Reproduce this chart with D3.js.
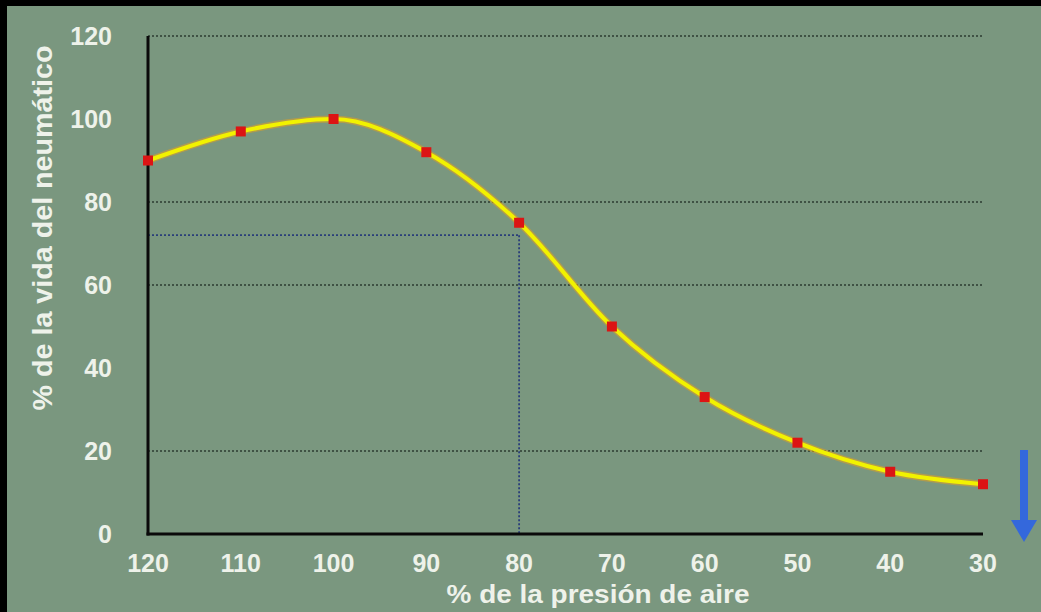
<!DOCTYPE html>
<html><head><meta charset="utf-8">
<script src="https://cdn.jsdelivr.net/npm/d3@7"></script>
<style>body{margin:0;background:#7a977f;}svg{display:block;}</style>
</head><body>
<svg id="c" width="1041" height="612"></svg>
<script>
const pressure = [120,110,100,90,80,70,60,50,40,30];
const life = [90,97,100,92,75,50,33,22,15,12];
const yTicks = [0,20,40,60,80,100,120];
const gridValues = [120,80,60,20];
const refPressure = 80;
const refLife = 72;
const xTitle = "% de la presión de aire";
const yTitle = "% de la vida del neumático";

const svg = d3.select("#c");
svg.append("rect").attr("width",1041).attr("height",612).attr("fill","#7a977f");
svg.append("rect").attr("x",0).attr("y",0).attr("width",1041).attr("height",6).attr("fill","#000");
svg.append("rect").attr("x",0).attr("y",0).attr("width",7).attr("height",612).attr("fill","#000");

const x = d3.scaleLinear().domain([120,30]).range([148,983]);
const y = d3.scaleLinear().domain([0,120]).range([534,36]);
const font = "Liberation Sans, Arial, sans-serif";
const txt = "#eef2ea";

// grid
svg.append("g").selectAll("line").data(gridValues).join("line")
  .attr("x1",x(120)).attr("x2",x(30)).attr("y1",d=>y(d)).attr("y2",d=>y(d))
  .attr("stroke","#1f2e24").attr("stroke-width",1.5).attr("stroke-dasharray","2,2").attr("opacity",0.85);

// reference dotted lines
svg.append("line").attr("x1",x(120)).attr("x2",x(refPressure)).attr("y1",y(refLife)).attr("y2",y(refLife))
  .attr("stroke","#2a3f7a").attr("stroke-width",1.8).attr("stroke-dasharray","2,2");
svg.append("line").attr("x1",x(refPressure)).attr("x2",x(refPressure)).attr("y1",y(refLife)).attr("y2",y(0))
  .attr("stroke","#2a3f7a").attr("stroke-width",1.8).attr("stroke-dasharray","2,2");

// axes
svg.append("line").attr("x1",x(120)).attr("x2",x(120)).attr("y1",y(120)).attr("y2",y(0)+1.5)
  .attr("stroke","#0a0a0a").attr("stroke-width",3);
svg.append("line").attr("x1",x(120)-1.5).attr("x2",x(30)).attr("y1",y(0)).attr("y2",y(0))
  .attr("stroke","#0a0a0a").attr("stroke-width",3);

// tick labels
svg.append("g").selectAll("text").data(yTicks).join("text")
  .attr("x",112).attr("y",d=>y(d)).attr("dy","0.35em").attr("text-anchor","end")
  .attr("font-family",font).attr("font-weight","bold").attr("font-size",25).attr("fill",txt)
  .text(d=>d);
svg.append("g").selectAll("text").data(pressure).join("text")
  .attr("x",d=>x(d)).attr("y",563).attr("dy","0.35em").attr("text-anchor","middle")
  .attr("font-family",font).attr("font-weight","bold").attr("font-size",25).attr("fill",txt)
  .text(d=>d);

// titles
svg.append("text").attr("x",598).attr("y",603).attr("text-anchor","middle")
  .attr("font-family",font).attr("font-weight","bold").attr("font-size",26).attr("fill",txt)
  .attr("textLength",303).attr("lengthAdjust","spacingAndGlyphs").text(xTitle);
svg.append("text").attr("transform","translate(43,228) rotate(-90)").attr("dy","0.35em").attr("text-anchor","middle")
  .attr("font-family",font).attr("font-weight","bold").attr("font-size",27).attr("fill",txt)
  .attr("textLength",365).attr("lengthAdjust","spacingAndGlyphs").text(yTitle);

// line
const pts = pressure.map((p,i)=>[p,life[i]]);
const lineGen = d3.line().x(d=>x(d[0])).y(d=>y(d[1])).curve(d3.curveMonotoneX);
svg.append("path").attr("d",lineGen(pts)).attr("fill","none").attr("stroke","#e0a020").attr("stroke-width",7).attr("opacity",0.55);
svg.append("path").attr("d",lineGen(pts)).attr("fill","none").attr("stroke","#f2f200").attr("stroke-width",4);
svg.append("g").selectAll("rect").data(pts).join("rect")
  .attr("x",d=>x(d[0])-5).attr("y",d=>y(d[1])-5).attr("width",10).attr("height",10).attr("fill","#dc1414");

// arrow
const ax = 1024;
svg.append("rect").attr("x",ax-4).attr("y",450).attr("width",8).attr("height",72).attr("fill","#3468dc");
svg.append("path").attr("d",`M${ax-13},520 L${ax+13},520 L${ax},542 Z`).attr("fill","#3468dc");
</script>
</body></html>
